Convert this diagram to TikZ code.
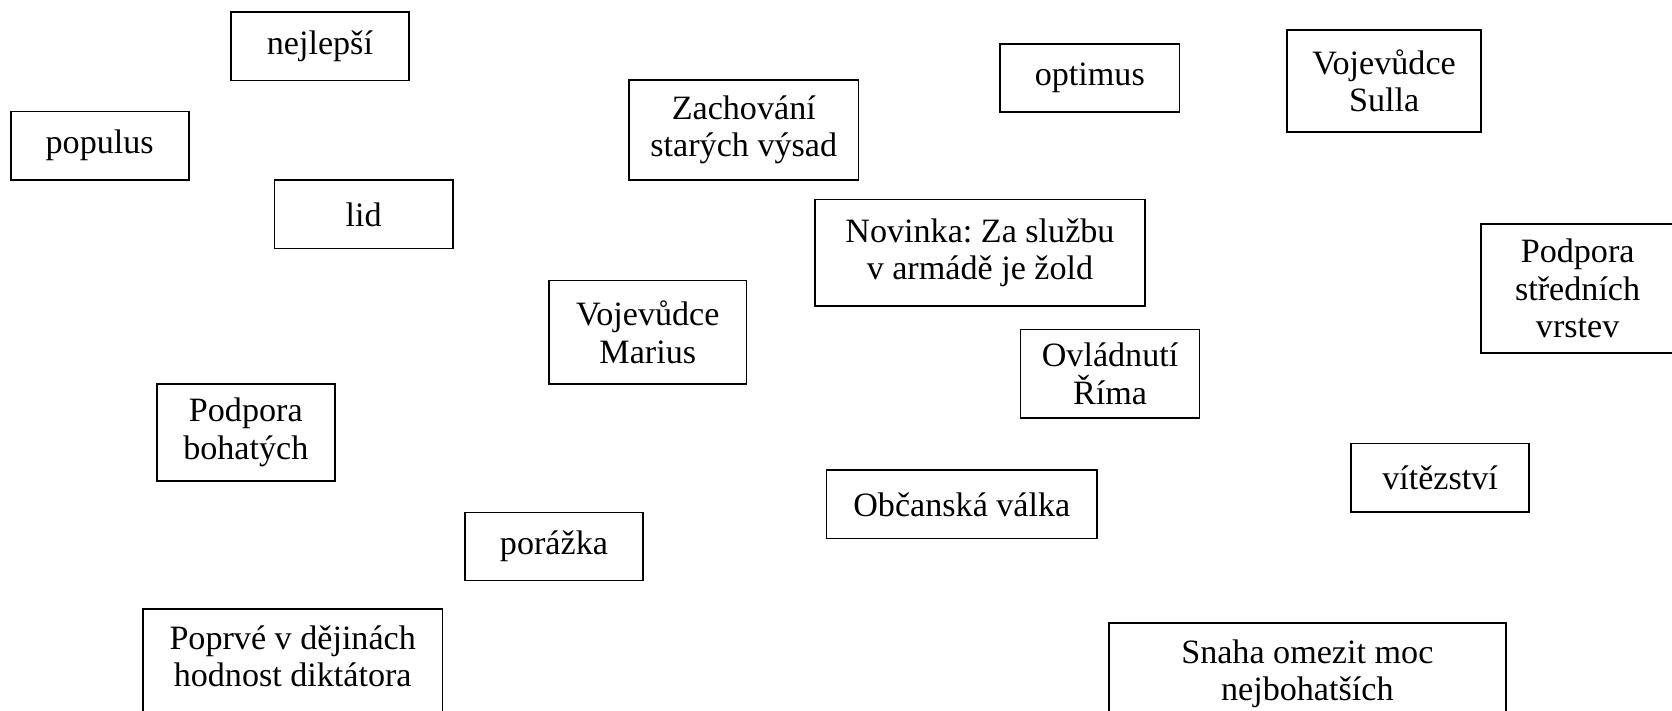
\documentclass[tikz,border=0pt]{standalone}
\usepackage{fontspec}
\setmainfont{Liberation Serif}
\usepackage{tikz}
\frenchspacing

\begin{document}
\begin{tikzpicture}[x=0.5pt, y=-0.5pt,
		box/.style = {draw, line width=0.8pt, align=center, inner sep=2pt,
			font=\fontsize{16pt}{17.5pt}\selectfont,
			minimum width=83.5pt, minimum height=32pt}]
		\useasboundingbox (0,0) rectangle (1568,666);
		\node[box] (nejlepsi) at (300,43.5) {nejlepší};
		\node[box] (populus) at (93.5,136.5) {populus};
		\node[box] (lid) at (341,201) {lid};
		\node[box, minimum width=107.5pt, minimum height=47pt] (vysady) at (697.5,122) {Zachování\\starých výsad};
		\node[box, minimum width=84pt] (optimus) at (1022,73) {optimus};
		\node[box, minimum width=91pt, minimum height=48pt] (sulla) at (1298,76) {Vojevůdce\\Sulla};
		\node[box, minimum width=155pt, minimum height=50pt] (zold) at (919,237) {Novinka: Za službu\\v armádě je žold};
		\node[box, minimum width=90.5pt, minimum height=60.5pt] (stredni) at (1479.5,270.5) {Podpora\\středních\\vrstev};
		\node[box, minimum width=92.5pt, minimum height=48.5pt] (marius) at (607.5,311.5) {Vojevůdce\\Marius};
		\node[box, minimum width=84pt, minimum height=41.5pt] (rim) at (1041,350.5) {Ovládnutí\\Říma};
		\node[box, minimum height=45.5pt] (bohati) at (230.5,405.5) {Podpora\\bohatých};
		\node[box] (vitezstvi) at (1350.5,448) {vítězství};
		\node[box, minimum width=127pt] (valka) at (902,473) {Občanská válka};
		\node[box] (porazka) at (519.5,512.5) {porážka};
		\node[box, minimum width=140.5pt, minimum height=62pt] (diktator) at (274.5,633) {Poprvé v dějinách\\hodnost diktátora\\\mbox{}};
		\node[box, minimum width=186pt, minimum height=62pt] (snaha) at (1226,646) {Snaha omezit moc\\nejbohatších\\\mbox{}};
	\end{tikzpicture}
\end{document}
